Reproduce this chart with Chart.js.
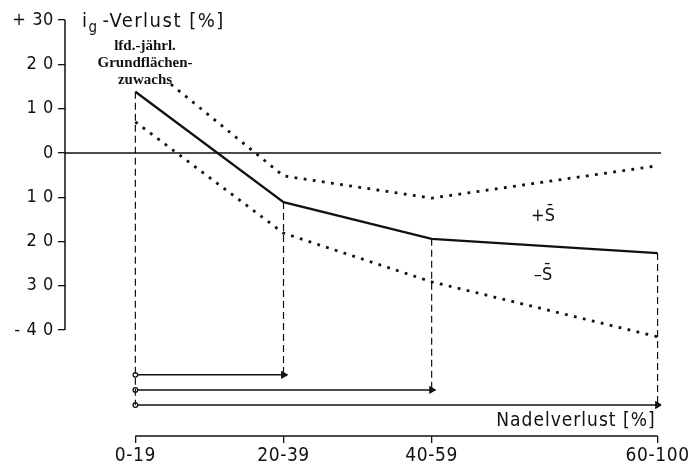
<!DOCTYPE html>
<html>
<head>
<meta charset="utf-8">
<script src="https://cdn.jsdelivr.net/npm/chart.js@4.4.1/dist/chart.umd.min.js"></script>
<style>
    html, body { margin: 0; padding: 0; background: #fff; }
    #wrap { width: 690px; height: 465px; }
</style>
</head>
<body>
<div id="wrap"><canvas id="chart" width="690" height="465"></canvas></div>
<script>
// Needle loss classes, placed at their class midpoints
const categories = ['0-19', '20-39', '40-59', '60-100'];
const categoryX = [9.5, 29.5, 49.5, 80];

// i_g loss [%]: mean and mean +/- s
const meanLoss = [13.8, -11.1, -19.4, -22.6];
const plusSX = [14.3, 29.5, 49.5, 80];   // upper line starts below the label
const plusS = [15.5, -5.2, -10.2, -2.9];
const minusS = [7.0, -18.1, -29.1, -41.5];

// arrows from 0-19 to 20-39, 40-59, 60-100
const arrowLevels = [-50.1, -53.5, -56.9];

const yTickValues = [30, 20, 10, 0, -10, -20, -30, -40];
const yTickLabels = ['+ 30', '2 0', '1 0', '0', '1 0', '2 0', '3 0', '- 4 0'];

const ink = '#111';
const sans = '"DejaVu Sans Condensed", "Liberation Sans Narrow", "DejaVu Sans", sans-serif';

Chart.defaults.font.family = sans;
Chart.defaults.color = ink;

const toPoints = (xs, ys) => xs.map((x, i) => ({ x: x, y: ys[i] }));

const dotted = {
    borderColor: ink,
    borderWidth: 2.8,
    borderDash: [2.8, 6.4],
    pointRadius: 0
};

const dropLines = categoryX.map((x, i) => ({
    data: [
        { x: x, y: meanLoss[i] },
        { x: x, y: i === 0 ? arrowLevels[2] : arrowLevels[i - 1] }
    ],
    borderColor: ink,
    borderWidth: 1.2,
    borderDash: [7, 4],
    pointRadius: 0
}));

const arrows = arrowLevels.map((y, i) => ({
    data: [
        { x: categoryX[0], y: y },
        { x: categoryX[i + 1], y: y }
    ],
    borderColor: ink,
    borderWidth: 1.5,
    pointStyle: ['circle', 'triangle'],
    pointRotation: [0, 90],
    pointRadius: [2.3, 3.5],
    pointBackgroundColor: ['#fff', ink],
    pointBorderColor: ink,
    pointBorderWidth: 1.3
}));

// axis lines and free text
const decorations = {
    id: 'decorations',
    beforeDraw(chart) {
        // the lettering in the original is widely spaced
        chart.ctx.letterSpacing = '0.6px';
    },
    afterDraw(chart) {
        const ctx = chart.ctx;
        const xs = chart.scales.x;
        const ys = chart.scales.y;
        const bottom = chart.chartArea.bottom;

        ctx.save();
        ctx.strokeStyle = ink;
        ctx.lineWidth = 1.5;
        ctx.beginPath();
        ctx.moveTo(xs.getPixelForValue(0), ys.getPixelForValue(30));
        ctx.lineTo(xs.getPixelForValue(0), ys.getPixelForValue(-40));
        ctx.moveTo(xs.getPixelForValue(categoryX[0]), bottom);
        ctx.lineTo(xs.getPixelForValue(categoryX[3]), bottom);
        ctx.stroke();

        ctx.fillStyle = ink;
        ctx.textBaseline = 'middle';

        // i_g - Verlust [%]
        let tx = 82;
        const ty = ys.getPixelForValue(30) + 2;
        ctx.textAlign = 'left';
        ctx.letterSpacing = '1.5px';
        ctx.font = '20px ' + sans;
        ctx.fillText('i', tx, ty);
        tx += ctx.measureText('i').width;
        ctx.font = '15px ' + sans;
        ctx.fillText('g', tx, ty + 6);
        tx += ctx.measureText('g').width + 4;
        ctx.font = '20px ' + sans;
        ctx.fillText('-Verlust [%]', tx, ty);

        // label of the first class
        ctx.letterSpacing = '0px';
        ctx.textAlign = 'center';
        ctx.font = 'bold 15px "Liberation Serif", "DejaVu Serif", serif';
        ctx.fillText('lfd.-jährl.', 145, 46);
        ctx.fillText('Grundflächen-', 145, 63);
        ctx.fillText('zuwachs', 145, 80);

        ctx.font = '18px ' + sans;
        ctx.fillText('+S\u0304', 543, 216);
        ctx.fillText('\u2013S\u0304', 543, 275);

        ctx.textAlign = 'right';
        ctx.letterSpacing = '1px';
        ctx.font = '19px ' + sans;
        ctx.fillText('Nadelverlust [%]', xs.getPixelForValue(categoryX[3]) - 2, bottom - 15);
        ctx.restore();
    }
};

new Chart(document.getElementById('chart'), {
    type: 'line',
    data: {
        datasets: [
            {
                data: [{ x: 0, y: 0 }, { x: 80.5, y: 0 }],
                borderColor: ink,
                borderWidth: 1.5,
                pointRadius: 0
            },
            {
                data: toPoints(categoryX, meanLoss),
                borderColor: ink,
                borderWidth: 2.3,
                pointRadius: 0
            },
            Object.assign({ data: toPoints(plusSX, plusS) }, dotted),
            Object.assign({ data: toPoints(categoryX, minusS) }, dotted),
            ...dropLines,
            ...arrows
        ]
    },
    options: {
        responsive: false,
        animation: false,
        devicePixelRatio: 1,
        layout: { padding: { top: 20, right: 26, bottom: 0, left: 0 } },
        elements: { line: { tension: 0, fill: false } },
        plugins: {
            legend: { display: false },
            tooltip: { enabled: false }
        },
        scales: {
            x: {
                type: 'linear',
                min: 0,
                max: 80.5,
                afterBuildTicks: s => { s.ticks = categoryX.map(v => ({ value: v })); },
                afterFit: s => { s.height = 29; },
                ticks: {
                    callback: (v, i) => categories[i],
                    font: { size: 19 },
                    color: ink,
                    padding: 2,
                    maxRotation: 0,
                    autoSkip: false
                },
                grid: { drawOnChartArea: false, tickLength: 7, color: ink, lineWidth: 1.3 },
                border: { display: false }
            },
            y: {
                min: -63.9,
                max: 30,
                afterBuildTicks: s => { s.ticks = yTickValues.map(v => ({ value: v })); },
                afterFit: s => { s.width = 65; },
                ticks: {
                    callback: (v, i) => yTickLabels[i],
                    font: { size: 18 },
                    color: ink,
                    padding: 4,
                    autoSkip: false
                },
                grid: { drawOnChartArea: false, tickLength: 7, color: ink, lineWidth: 1.3 },
                border: { display: false }
            }
        }
    },
    plugins: [decorations]
});
</script>
</body>
</html>
